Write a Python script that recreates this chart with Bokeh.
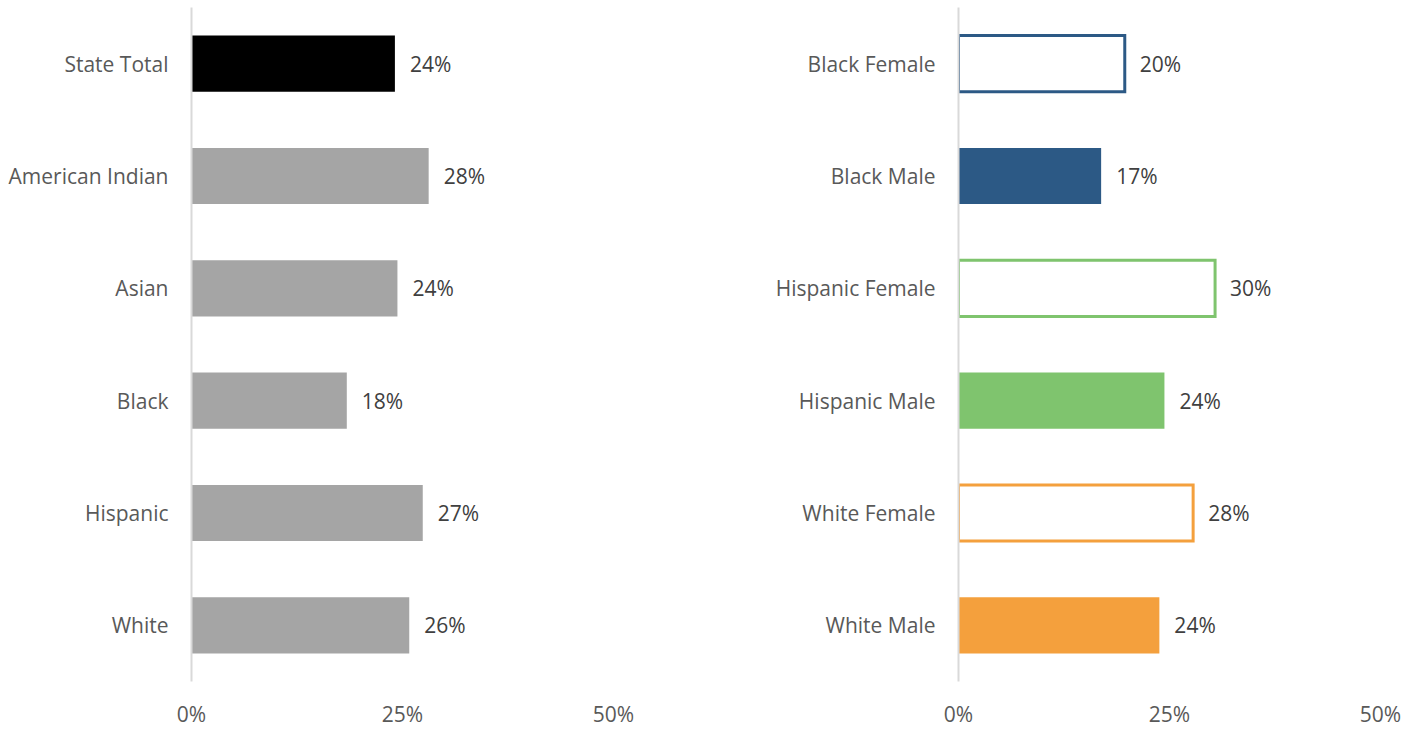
from bokeh.plotting import figure
from bokeh.layouts import row
from bokeh.models import ColumnDataSource, FixedTicker, NumeralTickFormatter, Range1d, FactorRange
from bokeh.embed import file_html
from bokeh.resources import INLINE
from bokeh.core.properties import value

left_cats = ["State Total", "American Indian", "Asian", "Black", "Hispanic", "White"]
left_vals = [0.241, 0.281, 0.244, 0.184, 0.274, 0.258]
left_colors = ["#000000", "#a5a5a5", "#a5a5a5", "#a5a5a5", "#a5a5a5", "#a5a5a5"]

right_cats = ["Black Female", "Black Male", "Hispanic Female", "Hispanic Male", "White Female", "White Male"]
right_vals = [0.197, 0.169, 0.304, 0.244, 0.278, 0.238]
right_fill = ["#ffffff", "#2c5985", "#ffffff", "#7fc46e", "#ffffff", "#f4a03d"]
right_line = ["#2c5985", "#2c5985", "#7fc46e", "#7fc46e", "#f4a03d", "#f4a03d"]
right_lw = [3, 0, 3, 0, 3, 0]

x_ticks = [0, 0.25, 0.5]
FONT = "Open Sans"
FS = "21px"


def make_fig(cats, vals, fill, line, lw, width, bl, br):
    p = figure(y_range=FactorRange(*list(reversed(cats))), x_range=Range1d(0, 0.5),
               width=width, height=730, output_backend="svg", toolbar_location=None,
               min_border_left=bl, min_border_right=br, min_border_top=7, min_border_bottom=47)
    src = ColumnDataSource(dict(cat=cats, val=vals, fill=fill, line=line, lw=lw,
                                lab=["%d%%" % round(v * 100) for v in vals]))
    p.hbar(y="cat", right="val", left=0, height=0.5, source=src, fill_color="fill",
           line_color="line", line_width="lw", line_join="miter")
    p.text(x="val", y="cat", text="lab", source=src, x_offset=15, text_align="left",
           text_baseline="middle", text_font=value(FONT), text_font_size=FS, text_color="#404040")
    p.outline_line_color = None
    p.grid.visible = False
    p.background_fill_color = "white"
    p.xaxis.ticker = FixedTicker(ticks=x_ticks)
    p.xaxis.formatter = NumeralTickFormatter(format="0%")
    p.xaxis.axis_line_color = None
    p.xaxis.major_tick_line_color = None
    p.xaxis.minor_tick_line_color = None
    p.xaxis.major_label_standoff = 12
    p.xaxis.major_label_text_font = FONT
    p.xaxis.major_label_text_font_size = FS
    p.xaxis.major_label_text_color = "#595959"
    p.yaxis.axis_line_color = "#d9d9d9"
    p.yaxis.axis_line_width = 2
    p.yaxis.major_tick_line_color = None
    p.yaxis.minor_tick_line_color = None
    p.yaxis.major_label_standoff = 17
    p.yaxis.major_label_text_font = FONT
    p.yaxis.major_label_text_font_size = FS
    p.yaxis.major_label_text_color = "#595959"
    return p


p1 = make_fig(left_cats, left_vals, left_colors, left_colors, [0] * 6, 700, 191, 87)
p2 = make_fig(right_cats, right_vals, right_fill, right_line, right_lw, 710, 258, 30)
layout = row(p1, p2)
open("out.html", "w").write(file_html(layout, INLINE))
